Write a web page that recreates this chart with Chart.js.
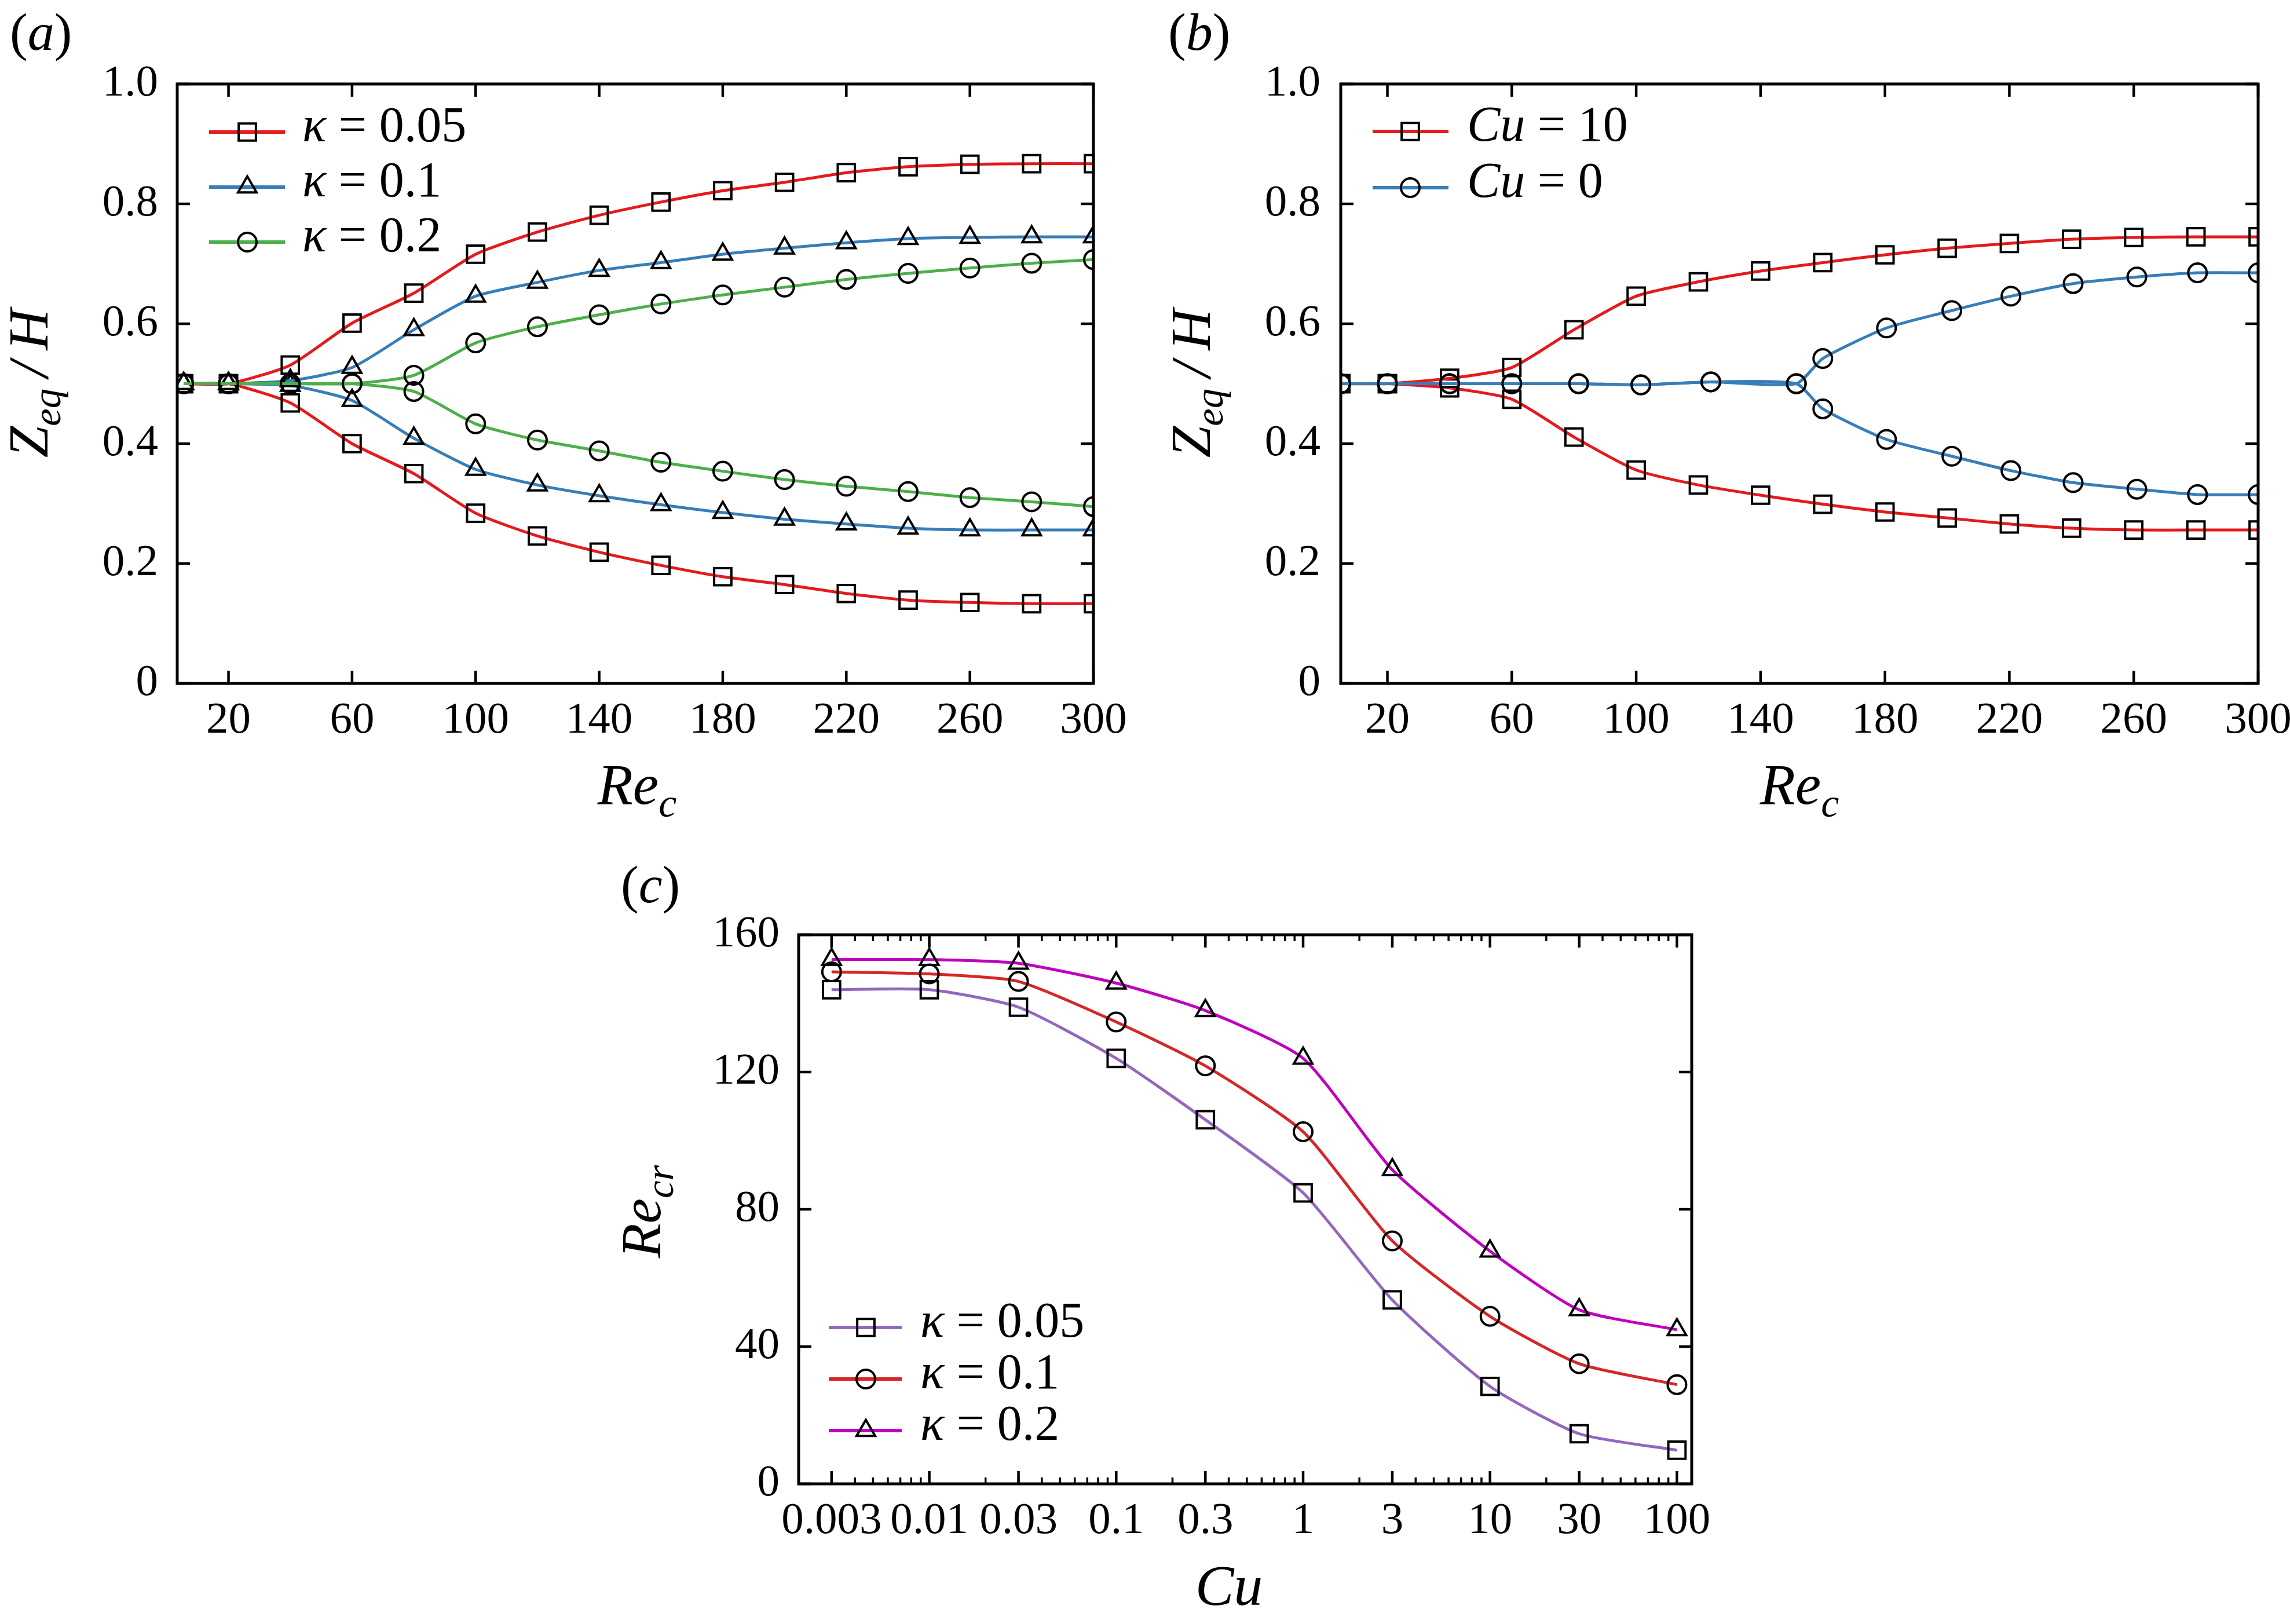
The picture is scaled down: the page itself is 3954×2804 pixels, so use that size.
<!DOCTYPE html>
<html lang="en">
<head>
<meta charset="UTF-8">
<title>Equilibrium position and critical Reynolds number</title>
<script src="https://cdn.jsdelivr.net/npm/chart.js"></script>
<style>
    body {
        margin: 0;
        background: #fff;
        width: 3954px;
        height: 2804px;
        position: relative;
        overflow: hidden;
        font-family: "Liberation Serif", "Times New Roman", "DejaVu Serif", serif;
    }
    .panel { position: absolute; }
</style>
</head>
<body>

<div class="panel" style="left:0;top:0;width:1960px;height:1420px"><canvas id="chartA" width="1960" height="1420"></canvas></div>
<div class="panel" style="left:1960px;top:0;width:1994px;height:1420px"><canvas id="chartB" width="1994" height="1420"></canvas></div>
<div class="panel" style="left:1000px;top:1450px;width:2000px;height:1354px"><canvas id="chartC" width="2000" height="1354"></canvas></div>

<script>
// ---- panel (a): Z_eq/H vs Re_c for three kappa ----
const reA = [5.5, 20, 40, 60, 80, 100, 120, 140, 160, 180, 200, 220, 240, 260, 280, 300];
const k005Upper = [0.5, 0.5, 0.531, 0.601, 0.651, 0.716, 0.753, 0.781, 0.803, 0.822, 0.836, 0.852, 0.862, 0.866, 0.867, 0.867];
const k005Lower = [0.5, 0.5, 0.468, 0.400, 0.350, 0.284, 0.246, 0.219, 0.197, 0.178, 0.165, 0.150, 0.139, 0.135, 0.133, 0.133];
const k01Upper  = [0.5, 0.5, 0.505, 0.527, 0.590, 0.646, 0.669, 0.689, 0.702, 0.716, 0.726, 0.735, 0.742, 0.744, 0.745, 0.745];
const k01Lower  = [0.5, 0.5, 0.497, 0.472, 0.409, 0.357, 0.331, 0.313, 0.298, 0.285, 0.274, 0.266, 0.259, 0.256, 0.256, 0.256];
const k02Upper  = [0.5, 0.5, 0.5, 0.5, 0.514, 0.568, 0.595, 0.615, 0.633, 0.648, 0.661, 0.674, 0.684, 0.693, 0.701, 0.707];
const k02Lower  = [0.5, 0.5, 0.5, 0.5, 0.487, 0.433, 0.406, 0.388, 0.369, 0.354, 0.340, 0.329, 0.320, 0.310, 0.303, 0.295];

// ---- panel (b): Cu = 10 vs Cu = 0 ----
const reB = [5, 20, 40, 60, 80, 100, 120, 140, 160, 180, 200, 220, 240, 260, 280, 300];
const cu10Upper = [0.5, 0.5, 0.509, 0.527, 0.590, 0.646, 0.670, 0.688, 0.702, 0.715, 0.726, 0.734, 0.741, 0.744, 0.745, 0.745];
const cu10Lower = [0.5, 0.5, 0.493, 0.474, 0.411, 0.356, 0.331, 0.314, 0.299, 0.286, 0.276, 0.266, 0.259, 0.256, 0.256, 0.256];
const reCu0 = [5, 20, 40, 60, 81.5, 101.5, 124, 151.5, 160, 180.5, 201.5, 220.5, 240.5, 261, 280.5, 300];
const cu0Upper = [0.5, 0.5, 0.5, 0.5, 0.5, 0.498, 0.503, 0.5, 0.542, 0.593, 0.622, 0.646, 0.667, 0.678, 0.685, 0.685];
const cu0Lower = [0.5, 0.5, 0.5, 0.5, 0.5, 0.498, 0.503, 0.5, 0.458, 0.407, 0.379, 0.355, 0.335, 0.324, 0.315, 0.315];

// ---- panel (c): Re_cr vs Cu ----
const cuValues = [0.003, 0.01, 0.03, 0.1, 0.3, 1, 3, 10, 30, 100];
const reCrK005 = [144.0, 144.0, 138.9, 124.0, 106.1, 84.8, 53.6, 28.4, 14.6, 9.8];
const reCrK01  = [149.2, 148.6, 146.4, 134.6, 121.8, 102.6, 70.8, 48.8, 35.0, 28.9];
const reCrK02  = [152.8, 152.8, 151.7, 145.9, 137.9, 124.0, 91.5, 67.8, 50.7, 44.9];

// tick labels
const reTicks = [20, 60, 100, 140, 180, 220, 260, 300];
const zTicks = [0, 0.2, 0.4, 0.6, 0.8, 1.0];
const cuTicks = [0.003, 0.01, 0.03, 0.1, 0.3, 1, 3, 10, 30, 100];
const reCrTicks = [0, 40, 80, 120, 160];

const RED = '#e41a1c', BLUE = '#377eb8', GREEN = '#4daf4a';
const PURPLE = '#9467bd', RED2 = '#d62728', MAGENTA = '#bf00bf';
const FONT = '"Liberation Serif", "Times New Roman", "DejaVu Serif", serif';

// minor log ticks for Cu axis (2..9 x 10^n)
const cuMinor = [];
for (let e = -3; e <= 2; e++) {
    for (let k = 2; k <= 9; k++) {
        const v = k * Math.pow(10, e);
        if (v >= 0.002 && v <= 120) cuMinor.push(v);
    }
}

function pts(xs, ys) { return xs.map((x, i) => ({ x: x, y: ys[i] })); }

const MARK = {
    rect: { pointStyle: 'rect', radius: 21 },
    triangle: { pointStyle: 'triangle', radius: 18.5 },
    circle: { pointStyle: 'circle', radius: 16 }
};

function series(xs, ys, color, mark, order) {
    return {
        data: pts(xs, ys),
        borderColor: color,
        borderWidth: 5,
        tension: 0.2,
        pointStyle: MARK[mark].pointStyle,
        pointRadius: MARK[mark].radius,
        pointBorderColor: '#000',
        pointBackgroundColor: 'rgba(0,0,0,0)',
        pointBorderWidth: 4,
        order: order
    };
}

function setFont(ctx, size, italic) {
    ctx.font = (italic ? 'italic ' : '') + size + 'px ' + FONT;
}

// draw a run of text pieces (italic / subscript) on one baseline
function drawRuns(ctx, runs, x, y, size, align) {
    let w = 0;
    runs.forEach(r => { setFont(ctx, r.sub ? size * 0.7 : size, r.i); w += ctx.measureText(r.t).width; });
    let cx = align === 'center' ? x - w / 2 : (align === 'right' ? x - w : x);
    ctx.textAlign = 'left';
    ctx.textBaseline = 'alphabetic';
    ctx.fillStyle = '#000';
    runs.forEach(r => {
        const s = r.sub ? size * 0.7 : size;
        setFont(ctx, s, r.i);
        ctx.fillText(r.t, cx, y + (r.sub ? size * 0.22 : 0));
        cx += ctx.measureText(r.t).width;
    });
}

function line(ctx, x0, y0, x1, y1) {
    ctx.beginPath(); ctx.moveTo(x0, y0); ctx.lineTo(x1, y1); ctx.stroke();
}

// frame, inward ticks, titles, legend, panel letter
const figurePlugin = {
    id: 'figure',
    afterDraw(chart, args, o) {
        const ctx = chart.ctx, ca = chart.chartArea;
        const xs = chart.scales.x, ys = chart.scales.y;
        ctx.save();
        ctx.strokeStyle = '#000';
        ctx.lineCap = 'butt';
        ctx.lineWidth = 4.5;
        const L = 22;
        xs.ticks.forEach(t => {
            const p = xs.getPixelForValue(t.value);
            line(ctx, p, ca.bottom, p, ca.bottom - L);
            line(ctx, p, ca.top, p, ca.top + L);
        });
        ys.ticks.forEach(t => {
            const p = ys.getPixelForValue(t.value);
            line(ctx, ca.left, p, ca.left + L, p);
            line(ctx, ca.right, p, ca.right - L, p);
        });
        ctx.lineWidth = 3.5;
        (o.minorX || []).forEach(v => {
            const p = xs.getPixelForValue(v);
            line(ctx, p, ca.bottom, p, ca.bottom - 11);
            line(ctx, p, ca.top, p, ca.top + 11);
        });
        ctx.lineWidth = 5;
        ctx.strokeRect(ca.left, ca.top, ca.right - ca.left, ca.bottom - ca.top);

        // axis titles
        drawRuns(ctx, o.xTitle.runs, o.xTitle.x, o.xTitle.y, 100, 'center');
        ctx.save();
        ctx.translate(o.yTitle.x, o.yTitle.y);
        ctx.rotate(-Math.PI / 2);
        drawRuns(ctx, o.yTitle.runs, 0, 0, 98, 'center');
        ctx.restore();

        // panel letter
        drawRuns(ctx, [{ t: '(' }, { t: o.panel.t, i: 1 }, { t: ')' }], o.panel.x, o.panel.y, 92, 'left');

        // legend
        const lg = o.legend;
        lg.items.forEach((it, k) => {
            const y = lg.rows[k];
            ctx.strokeStyle = it.color;
            ctx.lineWidth = 6;
            line(ctx, lg.x0, y, lg.x1, y);
            ctx.strokeStyle = '#000';
            ctx.fillStyle = 'rgba(0,0,0,0)';
            ctx.lineWidth = 4;
            Chart.helpers.drawPoint(ctx, { pointStyle: MARK[it.mark].pointStyle, radius: MARK[it.mark].radius, borderWidth: 4, rotation: 0 }, lg.xm, y);
            drawRuns(ctx, it.runs, lg.xt, y + 16, 86, 'left');
        });
        ctx.restore();
    }
};

function tickFont() { return { family: FONT, size: 77, lineHeight: 1.2 }; }

function fixAxis(size, isX) {
    return function (scale) {
        if (isX) scale.height = size; else scale.width = size;
        scale.paddingLeft = 0; scale.paddingRight = 0;
        scale.paddingTop = 0; scale.paddingBottom = 0;
    };
}

function setTicks(values) {
    return function (scale) { scale.ticks = values.map(v => ({ value: v })); };
}

function makeChart(id, cfg) {
    return new Chart(document.getElementById(id), {
        type: 'line',
        data: { datasets: cfg.datasets },
        plugins: [figurePlugin],
        options: {
            responsive: false,
            animation: false,
            events: [],
            layout: { padding: { left: 0, top: cfg.padTop, right: cfg.padRight, bottom: 0 } },
            scales: {
                x: Object.assign({
                    position: 'bottom',
                    grid: { display: false, drawTicks: false },
                    border: { display: false },
                    afterFit: fixAxis(cfg.xHeight, true),
                    ticks: {
                        font: tickFont(), color: '#000', padding: 19,
                        autoSkip: false, maxRotation: 0, minRotation: 0,
                        callback: v => String(v)
                    }
                }, cfg.x),
                y: Object.assign({
                    position: 'left',
                    grid: { display: false, drawTicks: false },
                    border: { display: false },
                    afterFit: fixAxis(cfg.yWidth, false),
                    ticks: { font: tickFont(), color: '#000', padding: 33 }
                }, cfg.y)
            },
            plugins: {
                legend: { display: false },
                tooltip: { enabled: false },
                figure: cfg.figure
            }
        }
    });
}

const zTickFormat = v => (v === 0 ? '0' : v.toFixed(1));
const reTitle = [{ t: 'Re', i: 1 }, { t: 'c', i: 1, sub: 1 }];
const zTitle = [{ t: 'Z', i: 1 }, { t: 'eq', i: 1, sub: 1 }, { t: '\u2009/\u2009', i: 1 }, { t: 'H', i: 1 }];

// (a)
makeChart('chartA', {
    padTop: 145, padRight: 72, xHeight: 240, yWidth: 306,
    datasets: [
        series(reA, k005Upper, RED, 'rect', 3),
        series(reA, k005Lower, RED, 'rect', 3),
        series(reA, k01Upper, BLUE, 'triangle', 2),
        series(reA, k01Lower, BLUE, 'triangle', 2),
        series(reA, k02Upper, GREEN, 'circle', 1),
        series(reA, k02Lower, GREEN, 'circle', 1)
    ],
    x: { type: 'linear', min: 3.4, max: 300, afterBuildTicks: setTicks(reTicks) },
    y: { type: 'linear', min: 0, max: 1, afterBuildTicks: setTicks(zTicks),
         ticks: { font: tickFont(), color: '#000', padding: 33, callback: zTickFormat } },
    figure: {
        xTitle: { runs: reTitle, x: 1100, y: 1388 },
        yTitle: { runs: zTitle, x: 82, y: 662 },
        panel: { t: 'a', x: 17, y: 86 },
        legend: {
            x0: 361, x1: 492, xm: 427, xt: 522, rows: [228, 323, 418],
            items: [
                { color: RED, mark: 'rect', runs: [{ t: '\u03ba', i: 1 }, { t: ' = 0.05' }] },
                { color: BLUE, mark: 'triangle', runs: [{ t: '\u03ba', i: 1 }, { t: ' = 0.1' }] },
                { color: GREEN, mark: 'circle', runs: [{ t: '\u03ba', i: 1 }, { t: ' = 0.2' }] }
            ]
        }
    }
});

// (b)
makeChart('chartB', {
    padTop: 145, padRight: 55, xHeight: 240, yWidth: 355,
    datasets: [
        series(reB, cu10Upper, RED, 'rect', 2),
        series(reB, cu10Lower, RED, 'rect', 2),
        series(reCu0, cu0Upper, BLUE, 'circle', 1),
        series(reCu0, cu0Lower, BLUE, 'circle', 1)
    ],
    x: { type: 'linear', min: 5, max: 300, afterBuildTicks: setTicks(reTicks) },
    y: { type: 'linear', min: 0, max: 1, afterBuildTicks: setTicks(zTicks),
         ticks: { font: tickFont(), color: '#000', padding: 35, callback: zTickFormat } },
    figure: {
        xTitle: { runs: reTitle, x: 1147, y: 1388 },
        yTitle: { runs: zTitle, x: 129, y: 662 },
        panel: { t: 'b', x: 57, y: 86 },
        legend: {
            x0: 410, x1: 541, xm: 475, xt: 573, rows: [227, 324],
            items: [
                { color: RED, mark: 'rect', runs: [{ t: 'Cu', i: 1 }, { t: ' = 10' }] },
                { color: BLUE, mark: 'circle', runs: [{ t: 'Cu', i: 1 }, { t: ' = 0' }] }
            ]
        }
    }
});

// (c)
makeChart('chartC', {
    padTop: 164, padRight: 79, xHeight: 242, yWidth: 379,
    datasets: [
        series(cuValues, reCrK005, PURPLE, 'rect', 3),
        series(cuValues, reCrK01, RED2, 'circle', 2),
        series(cuValues, reCrK02, MAGENTA, 'triangle', 1)
    ],
    x: { type: 'logarithmic', min: 0.002, max: 120, afterBuildTicks: setTicks(cuTicks) },
    y: { type: 'linear', min: 0, max: 160, afterBuildTicks: setTicks(reCrTicks) },
    figure: {
        minorX: cuMinor,
        xTitle: { runs: [{ t: 'Cu', i: 1 }], x: 1122, y: 1321 },
        yTitle: { runs: [{ t: 'Re', i: 1 }, { t: 'cr', i: 1, sub: 1 }], x: 140, y: 642 },
        panel: { t: 'c', x: 72, y: 108 },
        legend: {
            x0: 431, x1: 557, xm: 495, xt: 589, rows: [842, 931, 1020],
            items: [
                { color: PURPLE, mark: 'rect', runs: [{ t: '\u03ba', i: 1 }, { t: ' = 0.05' }] },
                { color: RED2, mark: 'circle', runs: [{ t: '\u03ba', i: 1 }, { t: ' = 0.1' }] },
                { color: MAGENTA, mark: 'triangle', runs: [{ t: '\u03ba', i: 1 }, { t: ' = 0.2' }] }
            ]
        }
    }
});
</script>
</body>
</html>
